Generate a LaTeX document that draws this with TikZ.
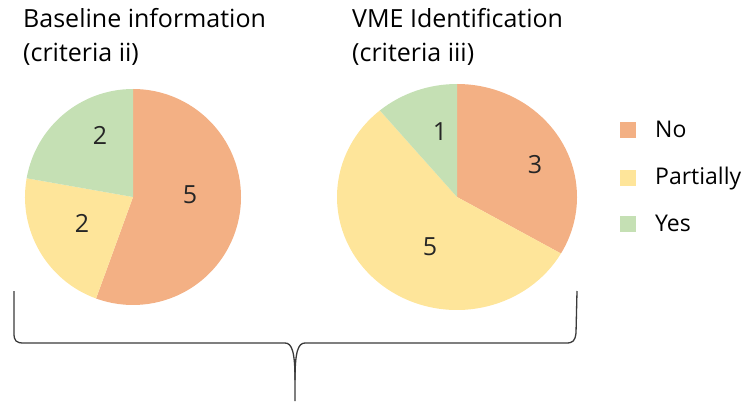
\documentclass[tikz,border=0pt]{standalone}
\usepackage{fontspec}
\setmainfont{Open Sans}
\definecolor{nocol}{HTML}{F3B084}
\definecolor{partcol}{HTML}{FEE59A}
\definecolor{yescol}{HTML}{C5E0B4}
\definecolor{bracecol}{HTML}{3A3A3A}
\begin{document}
\begin{tikzpicture}[x=1pt,y=1pt,
  title/.style={anchor=base west,inner sep=0pt,align=left,font=\fontsize{25}{34}\selectfont},
  count/.style={font=\fontsize{25}{28}\selectfont,text=black!85},
  legtext/.style={anchor=base west,inner sep=0pt,font=\fontsize{23}{25}\selectfont}]
	\useasboundingbox (0,0) rectangle (751,-401);
	% left pie
	\fill[nocol] (133,-197) -- ++(0,108) arc[start angle=90, end angle=-110, radius=108] -- cycle;
	\fill[partcol] (133,-197) -- ++(-110:108) arc[start angle=-110, end angle=-190, radius=108] -- cycle;
	\fill[yescol] (133,-197) -- ++(170:108) arc[start angle=170, end angle=90, radius=108] -- cycle;
	\node[count] (lno) at (190,-195) {5};
	\node[count] (lpart) at (82,-223) {2};
	\node[count] (lyes) at (100,-135) {2};
	% right pie
	\fill[nocol] (457,-197) -- ++(0,113) arc[start angle=90, end angle=-30, x radius=120, y radius=113] -- cycle;
	\fill[partcol] (457,-197) -- ++({120*cos(-30)},{113*sin(-30)}) arc[start angle=-30, end angle=-230, x radius=120, y radius=113] -- cycle;
	\fill[yescol] (457,-197) -- ++({120*cos(130)},{113*sin(130)}) arc[start angle=130, end angle=90, x radius=120, y radius=113] -- cycle;
	\node[count] (rno) at (535,-165) {3};
	\node[count] (rpart) at (430,-247) {5};
	\node[count] (ryes) at (440,-132) {1};
	% titles
	\node[title] (tleft) at (23,-62) {Baseline information\\(criteria ii)};
	\node[title] (tright) at (352,-62) {VME Identification\\(criteria iii)};
	% legend
	\fill[nocol] (620,-122) rectangle (636,-138);
	\fill[partcol] (620,-170) rectangle (636,-186);
	\fill[yescol] (620,-216) rectangle (636,-232);
	\node[legtext] (lgno) at (655,-137) {No};
	\node[legtext] (lgpart) at (655,-184) {Partially};
	\node[legtext] (lgyes) at (655,-231) {Yes};
	% brace
	\draw[bracecol,line width=1.3pt] (14,-291) -- (14,-333) .. controls (14,-341) and (16,-343) .. (24,-343) -- (285,-343)
		.. controls (292,-343) and (295,-352) .. (295,-380) -- (295,-401);
	\draw[bracecol,line width=1.3pt] (577,-291) -- (576,-333) .. controls (575,-341) and (573,-343) .. (566,-343) -- (305,-343)
		.. controls (298,-343) and (295,-352) .. (295,-380);
\end{tikzpicture}
\end{document}
